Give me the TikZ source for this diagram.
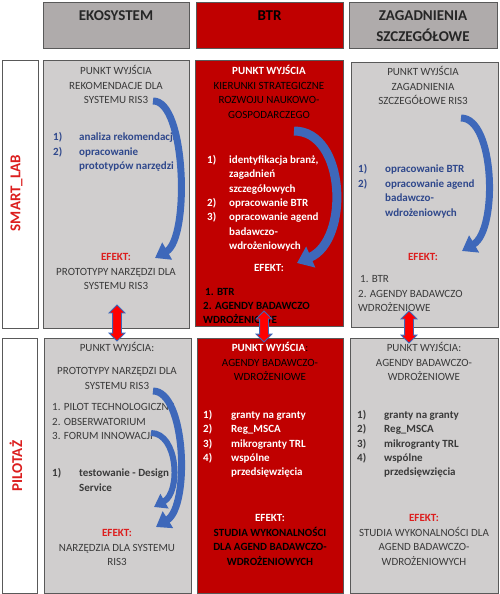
\documentclass[tikz,border=0pt]{standalone}
\usepackage{fontspec}
\setmainfont{Carlito}
\usepackage{tikz}
\usetikzlibrary{arrows.meta, shapes.arrows, positioning}
\definecolor{HeadGray}{RGB}{175,171,171}
\definecolor{CellGray}{RGB}{208,206,206}
\definecolor{DeepRed}{RGB}{192,0,0}
\definecolor{EdgeGray}{RGB}{89,89,89}
\definecolor{TextGray}{RGB}{58,58,58}
\definecolor{ListBlue}{RGB}{47,72,140}
\definecolor{LabelRed}{RGB}{220,30,30}
\definecolor{ArrowBlue}{RGB}{62,104,186}

% text blocks whose baseline is their first line
\newcommand{\ctab}[1]{\begin{tabular}[t]{@{}c@{}}#1\end{tabular}}
\newcommand{\ltab}[1]{\begin{tabular}[t]{@{}l@{}}#1\end{tabular}}
% numbered line and its continuation
\newcommand{\li}[3][26pt]{\makebox[#1][l]{#2}#3}
\newcommand{\lc}[2][26pt]{\hspace*{#1}#2}

\begin{document}
\begin{tikzpicture}[
  x=1pt, y=-1pt,
  font=\fontsize{11}{14.5}\selectfont,
  cell/.style={rectangle, draw=EdgeGray, line width=0.8pt, inner sep=0pt,
               outer sep=0pt, anchor=north west},
  headcell/.style={cell, fill=HeadGray, minimum height=46pt},
  greycell/.style={cell, fill=CellGray},
  redcell/.style={cell, fill=DeepRed},
  rowcell/.style={cell, fill=white},
  headtxt/.style={inner sep=0pt, anchor=base,
                  font=\fontsize{15}{21}\selectfont\bfseries, text=black!85},
  rowtxt/.style={inner sep=0pt, rotate=90, text=LabelRed,
                 font=\fontsize{15}{18}\selectfont\bfseries},
  txt/.style={inner sep=0pt, anchor=base, text=TextGray},
  lst/.style={inner sep=0pt, anchor=base west, text=TextGray},
  curvearrow/.style={ArrowBlue, line width=7pt, -{Triangle[width=19pt,length=14pt]}},
  updown/.style={double arrow, rotate=90, fill=red, draw=ArrowBlue, line width=0.8pt,
                 inner xsep=0pt, inner ysep=4pt, double arrow head extend=3.5pt}
]
\useasboundingbox (0,0) rectangle (499,594);

% column heads
\node[headcell, minimum width=146pt] (hEko) at (43,2) {};
\node[headcell, minimum width=147pt, fill=DeepRed] (hBtr) at (196,2) {};
\node[headcell, minimum width=148pt] (hZag) at (349,2) {};
\node[headtxt] (tEko) at (116,21) {EKOSYSTEM};
\node[headtxt, text=black] (tBtr) at (269.5,21) {BTR};
\node[headtxt] (tZag) at (423,21) {\ctab{ZAGADNIENIA\\SZCZEGÓŁOWE}};

% row heads
\node[rowcell, minimum width=36pt, minimum height=268pt] (rSmart) at (2,60) {};
\node[rowcell, minimum width=35pt, minimum height=255pt] (rPilot) at (2,338) {};
\node[rowtxt] (tSmart) at (16.5,193) {SMART\_LAB};
\node[rowtxt] (tPilot) at (16,466) {PILOTAŻ};

% cells
\node[greycell, minimum width=146pt, minimum height=268pt] (sEko) at (43,60) {};
\node[redcell,  minimum width=148pt, minimum height=266pt] (sBtr) at (195,60) {};
\node[greycell, minimum width=147pt, minimum height=265pt] (sZag) at (351,62) {};
\node[greycell, minimum width=147pt, minimum height=255pt] (pEko) at (44,338) {};
\node[redcell,  minimum width=146pt, minimum height=255pt] (pBtr) at (197,338) {};
\node[greycell, minimum width=148pt, minimum height=255pt] (pZag) at (350,338) {};

% SMART_LAB / EKOSYSTEM
\node[txt] (sEkoIn) at (116,74.5) {\ctab{PUNKT WYJŚCIA\\REKOMENDACJE DLA\\SYSTEMU RIS3}};
\node[lst, text=ListBlue, font=\fontsize{11}{14.5}\selectfont\bfseries] (sEkoLst) at (53,140.5)
  {\ltab{\li{1)}{analiza rekomendacji}\\\li{2)}{opracowanie}\\\lc{prototypów narzędzi}}};
\node[txt] (sEkoOut) at (116,260.5)
  {\ctab{{\color{LabelRed}\bfseries EFEKT:}\\PROTOTYPY NARZĘDZI DLA\\SYSTEMU RIS3}};

% SMART_LAB / BTR
\node[txt, text=black] (sBtrIn) at (269,74.5)
  {\ctab{{\color{white}\bfseries PUNKT WYJŚCIA}\\KIERUNKI STRATEGICZNE\\ROZWOJU NAUKOWO-\\GOSPODARCZEGO}};
\node[lst, text=white, font=\fontsize{11}{14.3}\selectfont\bfseries] (sBtrLst) at (207,163.5)
  {\ltab{\li[22pt]{1)}{identyfikacja branż,}\\\lc[22pt]{zagadnień}\\\lc[22pt]{szczegółowych}\\
   \li[22pt]{2)}{opracowanie BTR}\\\li[22pt]{3)}{opracowanie agend}\\
   \lc[22pt]{badawczo-}\\\lc[22pt]{wdrożeniowych}}};
\node[txt, text=white, font=\fontsize{11}{14.5}\selectfont\bfseries] (sBtrEf) at (269,271.5) {EFEKT:};
\node[lst, text=black, font=\fontsize{11}{14}\selectfont\bfseries] (sBtrOut) at (203,295.5)
  {\ltab{\hspace*{2pt}1. BTR\\2. AGENDY BADAWCZO\\WDROŻENIOWE}};

% SMART_LAB / ZAGADNIENIA
\node[txt] (sZagIn) at (423,75.5) {\ctab{PUNKT WYJŚCIA\\ZAGADNIENIA\\SZCZEGÓŁOWE RIS3}};
\node[lst, text=ListBlue, font=\fontsize{11}{14.5}\selectfont\bfseries] (sZagLst) at (358,172.5)
  {\ltab{\li[27pt]{1)}{opracowanie BTR}\\\li[27pt]{2)}{opracowanie agend}\\
   \lc[27pt]{badawczo-}\\\lc[27pt]{wdrożeniowych}}};
\node[txt, text=LabelRed, font=\fontsize{11}{14.5}\selectfont\bfseries] (sZagEf) at (423,260.5) {EFEKT:};
\node[lst] (sZagOut) at (358,282.5) {\ltab{\hspace*{2pt}1. BTR\\2. AGENDY BADAWCZO\\WDROŻENIOWE}};

% PILOTAZ / EKOSYSTEM
\node[txt] (pEkoIn) at (117,351.5) {PUNKT WYJŚCIA:};
\node[txt] (pEkoSrc) at (117,374.5) {\ctab{PROTOTYPY NARZĘDZI DLA\\SYSTEMU RIS3}};
\node[lst] (pEkoLst) at (52,410.5) {\ltab{1. PILOT TECHNOLOGICZNY\\2. OBSERWATORIUM\\3. FORUM INNOWACJI}};
\node[lst, font=\fontsize{11}{14.5}\selectfont\bfseries] (pEkoTst) at (52,476.5)
  {\ltab{\li[27pt]{1)}{testowanie - Design}\\\lc[27pt]{Service}}};
\node[txt] (pEkoOut) at (117,536.5)
  {\ctab{{\color{LabelRed}\bfseries EFEKT:}\\NARZĘDZIA DLA SYSTEMU\\RIS3}};

% PILOTAZ / BTR
\node[txt, text=black] (pBtrIn) at (270,351.5)
  {\ctab{{\color{white}\bfseries PUNKT WYJŚCIA}:\\AGENDY BADAWCZO-\\WDROŻENIOWE}};
\node[lst, text=white, font=\fontsize{11}{14.3}\selectfont\bfseries] (pBtrLst) at (203,418.5)
  {\ltab{\li[28pt]{1)}{granty na granty}\\\li[28pt]{2)}{Reg\_MSCA}\\\li[28pt]{3)}{mikrogranty TRL}\\
   \li[28pt]{4)}{wspólne}\\\lc[28pt]{przedsięwzięcia}}};
\node[txt, text=black, font=\fontsize{11}{14.5}\selectfont\bfseries] (pBtrOut) at (270,521.5)
  {\ctab{{\color{white}EFEKT:}\\STUDIA WYKONALNOŚCI\\DLA AGEND BADAWCZO-\\WDROŻENIOWYCH}};

% PILOTAZ / ZAGADNIENIA
\node[txt] (pZagIn) at (424,351.5) {\ctab{PUNKT WYJŚCIA:\\AGENDY BADAWCZO-\\WDROŻENIOWE}};
\node[lst, font=\fontsize{11}{14.3}\selectfont\bfseries] (pZagLst) at (357,418.5)
  {\ltab{\li[27pt]{1)}{granty na granty}\\\li[27pt]{2)}{Reg\_MSCA}\\\li[27pt]{3)}{mikrogranty TRL}\\
   \li[27pt]{4)}{wspólne}\\\lc[27pt]{przedsięwzięcia}}};
\node[txt] (pZagOut) at (424,521.5)
  {\ctab{{\color{LabelRed}\bfseries EFEKT:}\\STUDIA WYKONALNOŚCI DLA\\AGEND BADAWCZO-\\WDROŻENIOWYCH}};

% curved arrows
\coordinate (a1) at (153,101);  \coordinate (b1) at (155,258);
\coordinate (a2) at (294,131);  \coordinate (b2) at (297,263);
\coordinate (a3) at (461,118);  \coordinate (b3) at (462,251);
\coordinate (a4) at (153,391);  \coordinate (b4) at (156,527);
\coordinate (a5) at (151,433);  \coordinate (b5) at (154,507);
\draw[curvearrow] (a1) .. controls (186,100) and (190,238) .. (b1);
\draw[curvearrow, line width=9pt, -{Triangle[width=22pt,length=15pt]}]
  (a2) .. controls (346,131) and (350,240) .. (b2);
\draw[curvearrow] (a3) .. controls (495,118) and (498,230) .. (b3);
\draw[curvearrow] (a4) .. controls (186,391) and (190,506) .. (b4);
\draw[curvearrow, line width=6pt, -{Triangle[width=16pt,length=12pt]}]
  (a5) .. controls (178,433) and (181,492) .. (b5);

% links between rows
\node[updown, minimum height=36pt] (lEko) at (117,323) {};
\node[updown, minimum height=31pt] (lBtr) at (264,326.5) {};
\node[updown, minimum height=32pt] (lZag) at (409,327) {};

\end{tikzpicture}
\end{document}
